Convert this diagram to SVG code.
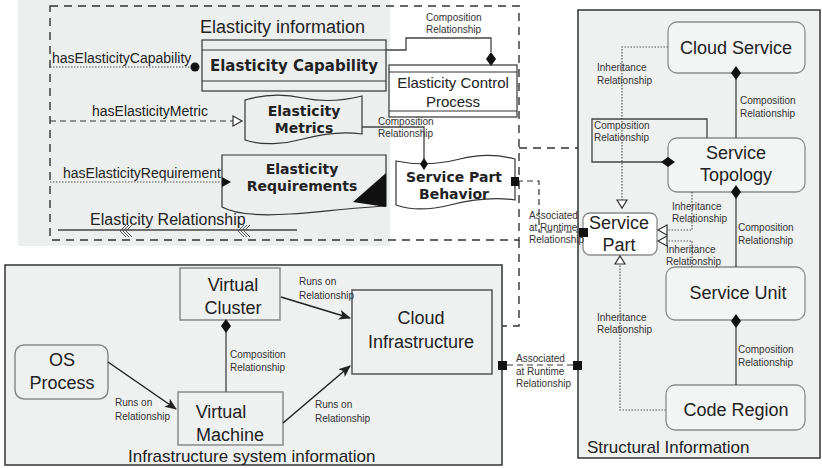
<svg xmlns="http://www.w3.org/2000/svg" width="822" height="468" viewBox="0 0 822 468">
<style>
.lbl{font-family:"Liberation Sans",Arial,sans-serif;font-size:10px;fill:#333}
.mid{font-family:"Liberation Sans",Arial,sans-serif;font-size:14px;fill:#222}
.big{font-family:"Liberation Sans",Arial,sans-serif;font-size:18px;fill:#222;text-anchor:middle}
.ttl{font-family:"Liberation Sans",Arial,sans-serif;font-size:17px;fill:#222}
.bld{font-family:"DejaVu Sans",Verdana,sans-serif;font-weight:bold;font-size:14px;fill:#222;text-anchor:middle}
.nrm{font-family:"Liberation Sans",Arial,sans-serif;font-size:15px;fill:#222;text-anchor:middle}
.panel{fill:#eff0f0;stroke:#333;stroke-width:1.5}
.rbox{fill:#f3f4f4;stroke:#8c8c8c;stroke-width:1.3}
.ibox{fill:#eff0f0;stroke:#8a8a8a;stroke-width:1.5}
.eshape{stroke:#333;stroke-width:1.2}
.solid{fill:none;stroke:#444;stroke-width:1.3}
.dot{fill:none;stroke:#555;stroke-width:1.2;stroke-dasharray:1.5 1.5}
.dash{fill:none;stroke:#333;stroke-width:1.2;stroke-dasharray:6 4}
.bdash{fill:none;stroke:#333;stroke-width:1.4;stroke-dasharray:8 6}
.dia{fill:#111}
.tri{fill:#fff;stroke:#333;stroke-width:1.2}
</style>
<defs>
<marker id="arr" viewBox="0 0 12 10" refX="11" refY="5" markerWidth="12" markerHeight="10" markerUnits="userSpaceOnUse" orient="auto">
<path d="M0,0 L12,5 L0,10 L3,5 z" fill="#222"/>
</marker>
</defs>

<!-- backgrounds -->
<rect x="18" y="0" width="372" height="246" fill="#edefef"/>
<g id="structural-panel">
<rect class="panel" x="578" y="10" width="242" height="448"/>
<text class="ttl" x="587" y="453">Structural Information</text>
</g>
<g id="infrastructure-panel">
<rect class="panel" x="5" y="265" width="497" height="200"/>
<text class="ttl" x="128" y="462">Infrastructure system information</text>
</g>
<g id="elasticity-information">
<rect class="bdash" x="50" y="6" width="469" height="234"/>
<text x="200" y="33" style="font-family:'Liberation Sans',Arial,sans-serif;font-size:18px;fill:#222">Elasticity information</text>
</g>

<!-- nodes: elasticity -->
<g id="elasticity-capability">
<rect class="eshape" x="202" y="40" width="184" height="51" fill="#edefef"/>
<line class="eshape" x1="202" y1="50" x2="386" y2="50"/>
<line class="eshape" x1="202" y1="81" x2="386" y2="81"/>
<text class="bld" x="294" y="71" style="font-size:15px">Elasticity Capability</text>
</g>
<g id="elasticity-control-process">
<rect class="eshape" x="389" y="65" width="128" height="52" fill="#fff"/>
<line class="eshape" x1="389" y1="72" x2="517" y2="72"/>
<line class="eshape" x1="389" y1="111" x2="517" y2="111"/>
<text class="nrm" x="453" y="88">Elasticity Control</text>
<text class="nrm" x="453" y="107">Process</text>
</g>
<g id="elasticity-metrics">
<path class="eshape" fill="#edefef" d="M245,100 C265,94 285,94 303,98 C322,102 342,101 362,96 L362,134 C342,131 322,134 303,139 C285,144 262,146 245,140 Z"/>
<text class="bld" x="304" y="116">Elasticity</text>
<text class="bld" x="304" y="133">Metrics</text>
</g>
<g id="elasticity-requirements">
<path class="eshape" fill="#edefef" d="M222,155 L386,155 L386,206 C350,208 320,212 290,214 C260,216 235,214 222,207 Z"/>
<polygon points="353,202 386,173 386,207" fill="#111"/>
<text class="bld" x="302" y="174">Elasticity</text>
<text class="bld" x="302" y="191">Requirements</text>
</g>
<g id="service-part-behavior">
<path class="eshape" fill="#fff" d="M396,161 C420,166 440,164 460,159 C480,154 500,155 515,159 L515,200 C495,197 470,200 450,205 C430,210 410,210 396,205 Z"/>
<text class="bld" x="454" y="182">Service Part</text>
<text class="bld" x="454" y="199">Behavior</text>
</g>

<!-- nodes: structural -->
<g id="cloud-service">
<rect class="rbox" x="668" y="22" width="137" height="51" rx="9"/>
<text class="big" x="736" y="54">Cloud Service</text>
</g>
<g id="service-topology">
<rect class="rbox" x="668" y="138" width="137" height="54" rx="9"/>
<text class="big" x="736" y="159">Service</text>
<text class="big" x="736" y="181">Topology</text>
</g>
<g id="service-part">
<rect x="583" y="213" width="74" height="42" rx="7" fill="#fff" stroke="#8c8c8c" stroke-width="1.3"/>
<text class="big" x="619" y="229">Service</text>
<text class="big" x="619" y="251">Part</text>
</g>
<g id="service-unit">
<rect class="rbox" x="666" y="267" width="139" height="53" rx="9"/>
<text class="big" x="738" y="299">Service Unit</text>
</g>
<g id="code-region">
<rect class="rbox" x="666" y="385" width="139" height="45" rx="9"/>
<text class="big" x="736" y="416">Code Region</text>
</g>

<!-- nodes: infrastructure -->
<g id="virtual-cluster">
<rect class="ibox" x="180" y="268" width="100" height="52"/>
<text class="big" x="233" y="291">Virtual</text>
<text class="big" x="233" y="314">Cluster</text>
</g>
<g id="os-process">
<rect class="ibox" x="15" y="345" width="93" height="54" rx="9"/>
<text class="big" x="62" y="366">OS</text>
<text class="big" x="62" y="389">Process</text>
</g>
<g id="virtual-machine">
<rect class="ibox" x="178" y="392" width="105" height="53"/>
<text class="big" x="221" y="418">Virtual</text>
<text class="big" x="230" y="441">Machine</text>
</g>
<g id="cloud-infrastructure">
<rect x="352" y="290" width="140" height="84" fill="#eff0f0" stroke="#555" stroke-width="1.5"/>
<text class="big" x="421" y="324">Cloud</text>
<text class="big" x="421" y="348">Infrastructure</text>
</g>

<!-- connectors -->
<g id="connectors">
<!-- elasticity -->
<line class="dot" x1="50" y1="67" x2="192" y2="67"/>
<circle cx="195" cy="67" r="4.5" fill="#111"/>
<text class="mid" x="52" y="63">hasElasticityCapability</text>

<line class="dash" x1="50" y1="121" x2="233" y2="121"/>
<polygon class="tri" points="233,116 233,126 242,121"/>
<text class="mid" x="92" y="116">hasElasticityMetric</text>

<line class="dot" x1="50" y1="182" x2="222" y2="182"/>
<polygon points="222,177 222,187 231,182" fill="#111"/>
<text class="mid" x="63" y="178">hasElasticityRequirement</text>

<line x1="58" y1="230" x2="297" y2="230" stroke="#444" stroke-width="1.3"/>
<path d="M126,225 L120,231 L126,237 M129,225 L123,231 L129,237 M132,225 L126,231 L132,237 M244,225 L238,231 L244,237 M247,225 L241,231 L247,237 M250,225 L244,231 L250,237" fill="none" stroke="#555" stroke-width="1"/>
<text x="90" y="225" style="font-family:'Liberation Sans',Arial,sans-serif;font-size:16px;fill:#222">Elasticity Relationship</text>

<polyline class="solid" points="386,50 406,50 406,38 491,38 491,52"/>
<polygon class="dia" points="491,52 496,59 491,66 486,59"/>
<text class="lbl" x="426" y="21">Composition</text>
<text class="lbl" x="426" y="33">Relationship</text>

<polyline class="solid" points="362,127 424,127 424,159"/>
<polygon class="dia" points="424,158 428,164 424,170 420,164"/>
<text class="lbl" x="378" y="125">Composition</text>
<text class="lbl" x="378" y="137">Relationship</text>

<!-- cross-panel -->
<line class="bdash" x1="519" y1="148" x2="578" y2="148"/>
<polyline class="bdash" points="519,240 519,326 502,326"/>

<polyline class="dash" points="517,181 539,181 539,232 579,232"/>
<rect x="511" y="177" width="8" height="9" fill="#111"/>
<rect x="579" y="228" width="9" height="9" fill="#111"/>
<text class="lbl" x="529" y="219">Associated</text>
<text class="lbl" x="529" y="231">at Runtime</text>
<text class="lbl" x="529" y="243">Relationship</text>

<line class="dash" x1="507" y1="365" x2="573" y2="365"/>
<rect x="498" y="361" width="9" height="9" fill="#111"/>
<rect x="573" y="361" width="9" height="9" fill="#111"/>
<text class="lbl" x="516" y="362">Associated</text>
<text class="lbl" x="516" y="375">at Runtime</text>
<text class="lbl" x="516" y="387">Relationship</text>

<!-- structural -->
<line class="solid" x1="736" y1="79" x2="736" y2="138"/>
<polygon class="dia" points="736,66 741,73 736,80 731,73"/>
<text class="lbl" x="740" y="104">Composition</text>
<text class="lbl" x="740" y="117">Relationship</text>

<polyline class="solid" points="662,162 592,162 592,119 707,119 707,138"/>
<polygon class="dia" points="661,162 668,157 675,162 668,167"/>
<text class="lbl" x="594" y="129">Composition</text>
<text class="lbl" x="594" y="141">Relationship</text>

<line class="solid" x1="736" y1="198" x2="736" y2="267"/>
<polygon class="dia" points="736,185 741,192 736,199 731,192"/>
<text class="lbl" x="738" y="231">Composition</text>
<text class="lbl" x="738" y="244">Relationship</text>

<line class="solid" x1="736" y1="327" x2="736" y2="385"/>
<polygon class="dia" points="736,314 741,321 736,328 731,321"/>
<text class="lbl" x="738" y="353">Composition</text>
<text class="lbl" x="738" y="366">Relationship</text>

<polyline class="dot" points="668,47 622,47 622,200"/>
<polygon class="tri" points="617,200 627,200 622,208"/>
<text class="lbl" x="597" y="71">Inheritance</text>
<text class="lbl" x="597" y="84">Relationship</text>

<polyline class="dot" points="692,192 692,230 667,230"/>
<polygon class="tri" points="667,225 667,235 658,230"/>
<text class="lbl" x="672" y="210">Inheritance</text>
<text class="lbl" x="672" y="222">Relationship</text>

<polyline class="dot" points="692,267 692,241 667,241"/>
<polygon class="tri" points="667,236 667,246 658,241"/>
<text class="lbl" x="666" y="253">Inheritance</text>
<text class="lbl" x="666" y="265">Relationship</text>

<polyline class="dot" points="666,410 620,410 620,264"/>
<polygon class="tri" points="615,264 625,264 620,256"/>
<text class="lbl" x="597" y="321">Inheritance</text>
<text class="lbl" x="597" y="333">Relationship</text>

<!-- infrastructure -->
<line x1="108" y1="362" x2="176" y2="409" stroke="#222" stroke-width="1.5" marker-end="url(#arr)"/>
<text class="lbl" x="115" y="406">Runs on</text>
<text class="lbl" x="115" y="420">Relationship</text>

<line class="solid" x1="226" y1="392" x2="226" y2="332"/>
<polygon class="dia" points="226,319 231,326 226,333 221,326"/>
<text class="lbl" x="230" y="358">Composition</text>
<text class="lbl" x="230" y="371">Relationship</text>

<line x1="281" y1="297" x2="350" y2="318" stroke="#222" stroke-width="1.5" marker-end="url(#arr)"/>
<text class="lbl" x="299" y="285">Runs on</text>
<text class="lbl" x="299" y="299">Relationship</text>

<line x1="283" y1="423" x2="350" y2="366" stroke="#222" stroke-width="1.5" marker-end="url(#arr)"/>
<text class="lbl" x="315" y="408">Runs on</text>
<text class="lbl" x="315" y="422">Relationship</text>
</g>
</svg>
